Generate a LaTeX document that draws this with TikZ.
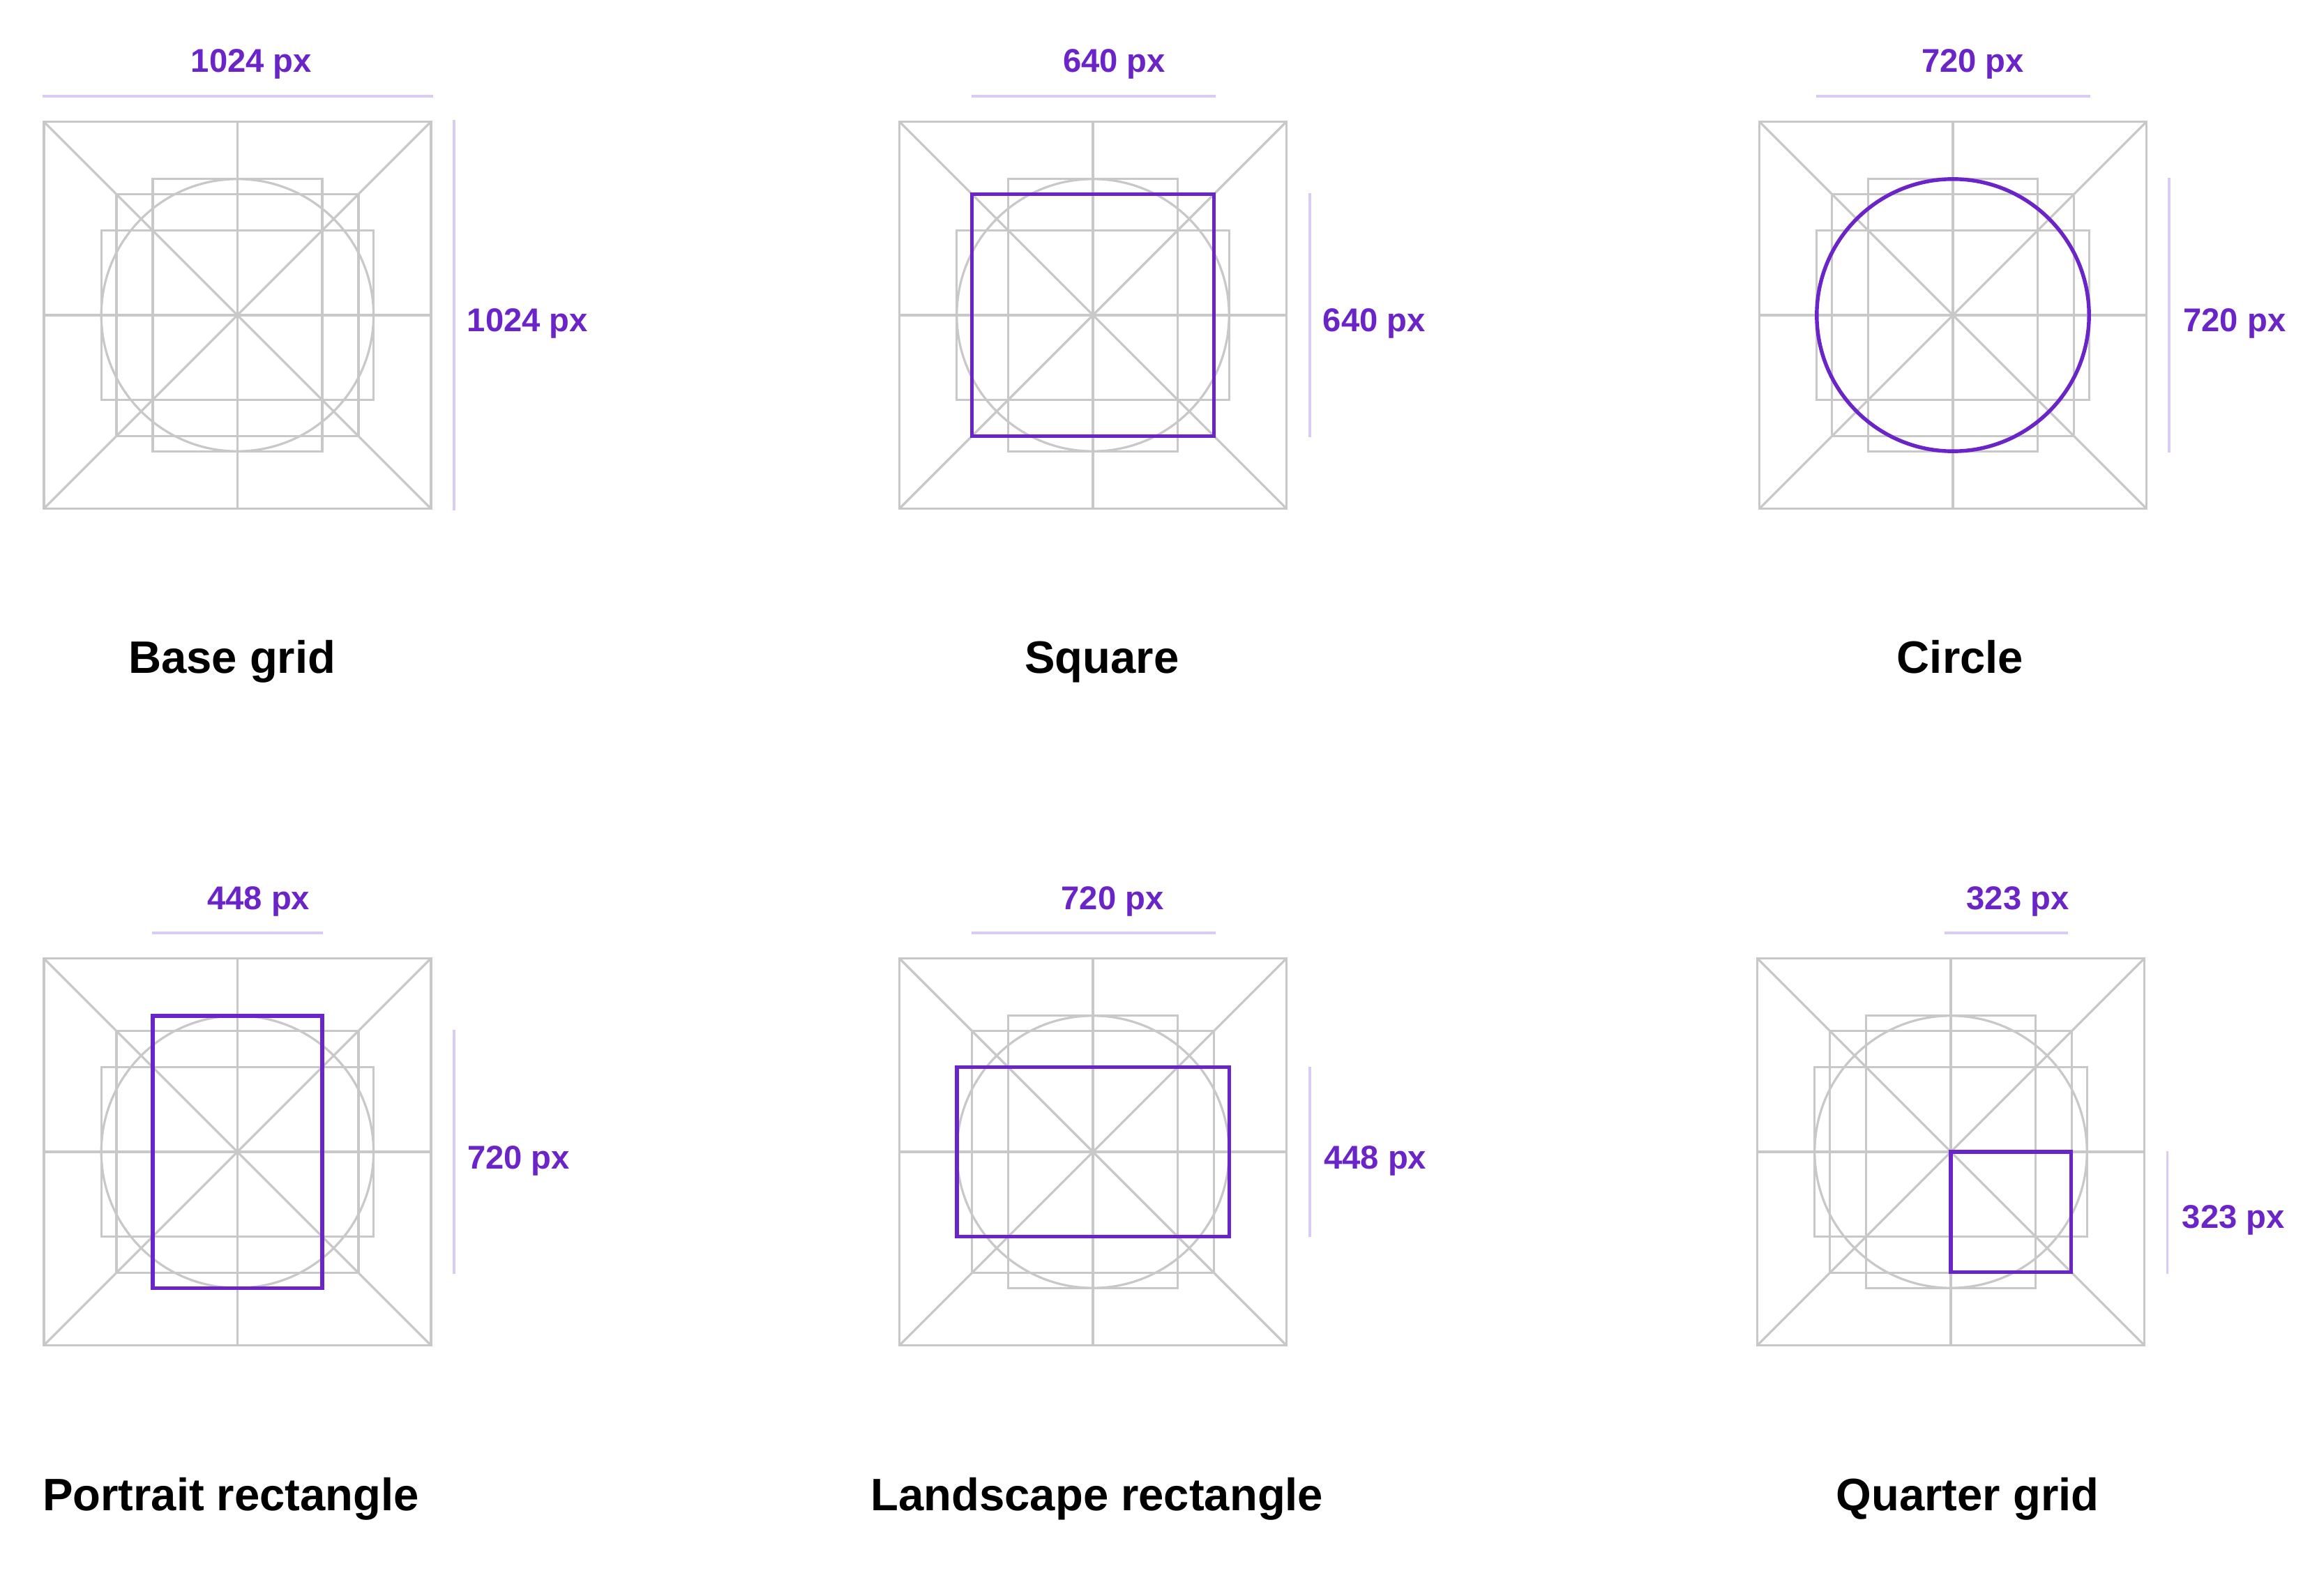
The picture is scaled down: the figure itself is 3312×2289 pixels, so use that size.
\documentclass[tikz,border=0pt]{standalone}
\usepackage{fontspec}
\setmainfont{Liberation Sans}
\begin{document}
\begin{tikzpicture}[x=0.25pt,y=-0.25pt,
  gridline/.style={draw=gridgray,line width=0.8pt},
  shapeline/.style={draw=vio,line width=1.35pt},
  dimline/.style={draw=lightvio,line width=0.85pt},
  dimlabel/.style={text=vio,inner sep=0pt,font=\fontsize{11.8pt}{14pt}\selectfont\bfseries},
  titlelabel/.style={text=black,inner sep=0pt,font=\fontsize{16.3pt}{20pt}\selectfont\bfseries}]
\definecolor{gridgray}{HTML}{C8C8C8}
\definecolor{vio}{HTML}{6A24C8}
\definecolor{lightvio}{HTML}{D9CBF3}
\useasboundingbox[fill=white] (0,0) rectangle (3312,2289);

\newcommand{\drawbasegrid}[2]{%
 \begin{scope}[shift={(#1,#2)}]
  \draw[gridline] (-277.5,-277.5) rectangle (277.5,277.5);
  \draw[gridline] (-277.5,-277.5) -- (277.5,277.5);
  \draw[gridline] (-277.5,277.5) -- (277.5,-277.5);
  \draw[gridline] (0,-277.5) -- (0,277.5);
  \draw[gridline] (-277.5,0) -- (277.5,0);
  \draw[gridline] (-121.5,-195.2) rectangle (121.5,195.2);
  \draw[gridline] (-173.5,-173.5) rectangle (173.5,173.5);
  \draw[gridline] (-195.2,-121.5) rectangle (195.2,121.5);
  \draw[gridline] (0,0) circle[radius=195.2];
 \end{scope}}

% grids
\drawbasegrid{340.4}{452}
\drawbasegrid{1567}{452}
\drawbasegrid{2800}{452}
\drawbasegrid{340.4}{1652}
\drawbasegrid{1567}{1652}
\drawbasegrid{2797}{1652}

% highlighted shapes
\draw[shapeline] (1567-173.5,452-173.5) rectangle (1567+173.5,452+173.5);
\draw[shapeline] (2800,452) circle[radius=195.2];
\draw[shapeline] (340.4-121.5,1652-195.2) rectangle (340.4+121.5,1652+195.2);
\draw[shapeline] (1567-195.2,1652-121.5) rectangle (1567+195.2,1652+121.5);
\draw[shapeline] (2797,1652) rectangle (2797+172.5,1652+172.5);

% horizontal dimension lines
\draw[dimline] (61,138) -- (621,138);
\draw[dimline] (1393,138) -- (1743,138);
\draw[dimline] (2604,138) -- (2997,138);
\draw[dimline] (218,1338) -- (463,1338);
\draw[dimline] (1393,1338) -- (1743,1338);
\draw[dimline] (2788,1338) -- (2965,1338);

% vertical dimension lines
\draw[dimline] (651,172) -- (651,732);
\draw[dimline] (1878,277) -- (1878,627);
\draw[dimline] (3110,255) -- (3110,649);
\draw[dimline] (651,1477) -- (651,1827);
\draw[dimline] (1878,1530) -- (1878,1774);
\draw[dimline] (3107.5,1651) -- (3107.5,1827);

% top labels
\node[dimlabel,anchor=base] (t1) at (360.5,104) {1024 px};
\node[dimlabel,anchor=base] (t2) at (1597.5,104) {640 px};
\node[dimlabel,anchor=base] (t3) at (2828.5,104) {720 px};
\node[dimlabel,anchor=base] (t4) at (370.7,1304) {448 px};
\node[dimlabel,anchor=base] (t5) at (1595,1304) {720 px};
\node[dimlabel,anchor=base] (t6) at (2893,1304) {323 px};

% side labels
\node[dimlabel,anchor=base west] (s1) at (669,476) {1024 px};
\node[dimlabel,anchor=base west] (s2) at (1896,476) {640 px};
\node[dimlabel,anchor=base west] (s3) at (3129.6,476) {720 px};
\node[dimlabel,anchor=base west] (s4) at (669.3,1676) {720 px};
\node[dimlabel,anchor=base west] (s5) at (1897.4,1676) {448 px};
\node[dimlabel,anchor=base west] (s6) at (3128,1761.5) {323 px};

% titles
\node[titlelabel,anchor=base] (h1) at (332.7,965.7) {Base grid};
\node[titlelabel,anchor=base] (h2) at (1580,965.7) {Square};
\node[titlelabel,anchor=base] (h3) at (2810.5,965.7) {Circle};
\node[titlelabel,anchor=base] (h4) at (331,2166.5) {Portrait rectangle};
\node[titlelabel,anchor=base] (h5) at (1573,2166.5) {Landscape rectangle};
\node[titlelabel,anchor=base] (h6) at (2821,2166.5) {Quarter grid};
\end{tikzpicture}
\end{document}
